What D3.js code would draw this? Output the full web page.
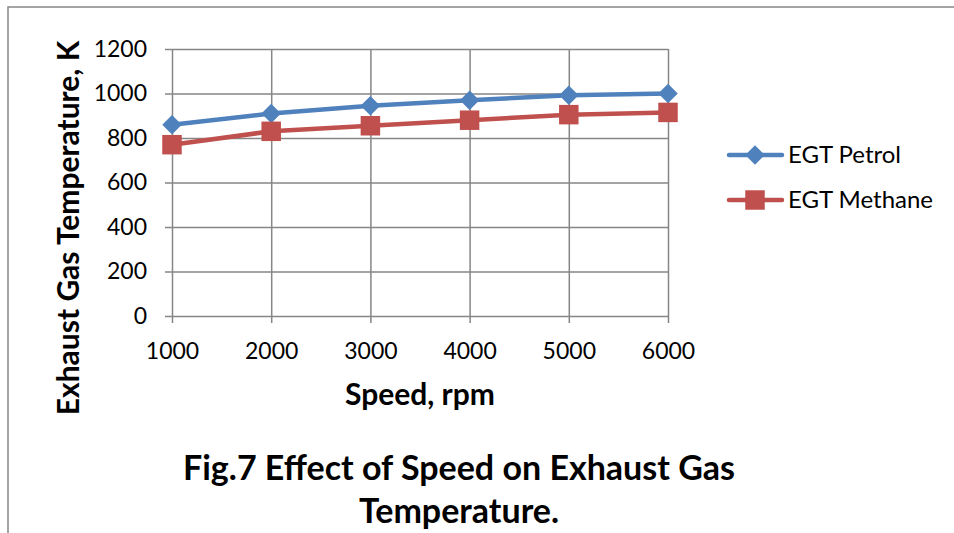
<!DOCTYPE html>
<html>
<head>
<meta charset="utf-8">
<script src="https://cdn.jsdelivr.net/npm/d3@7"></script>
<style>
  body { margin: 0; background: #fff; }
  svg { display: block; font-family: Lato, "Open Sans", sans-serif; }
</style>
</head>
<body>
<svg id="chart" width="954" height="533"></svg>
<script>
// data
var speeds = [1000, 2000, 3000, 4000, 5000, 6000];
var egtPetrol = [860, 910, 945, 970, 992, 1000];
var egtMethane = [770, 830, 855, 880, 905, 915];
var yTicks = [0, 200, 400, 600, 800, 1000, 1200];
var seriesNames = ["EGT Petrol", "EGT Methane"];

var svg = d3.select("#chart");
var m = { left: 172, right: 668, top: 49, bottom: 316 };
var gridCol = "#868686";

// outer frame (top + left only visible)
svg.append("path")
  .attr("d", "M8,533 V7 H954")
  .attr("fill", "none")
  .attr("stroke", gridCol)
  .attr("stroke-width", 1.5);

var x = d3.scaleLinear().domain([1000, 6000]).range([m.left, m.right]);
var y = d3.scaleLinear().domain([0, 1200]).range([m.bottom, m.top]);

// horizontal gridlines + y axis
var yAxis = d3.axisLeft(y).tickValues(yTicks).tickSize(-(m.right - m.left)).tickSizeOuter(0)
  .tickPadding(25).tickFormat(d3.format("d"));
var gy = svg.append("g").attr("transform", "translate(" + m.left + ",0)").call(yAxis);
gy.select(".domain").remove();
gy.selectAll(".tick line").attr("stroke", gridCol).attr("stroke-width", 1.5).attr("x1", -7);
gy.selectAll(".tick text").attr("font-size", 23).attr("fill", "#000").attr("font-family", "Lato");

// vertical gridlines + x axis
var xAxis = d3.axisBottom(x).tickValues(speeds).tickSize(-(m.bottom - m.top)).tickPadding(27).tickFormat(d3.format("d"));
var gx = svg.append("g").attr("transform", "translate(0," + m.bottom + ")").call(xAxis);
gx.select(".domain").remove();
gx.selectAll(".tick line").attr("stroke", gridCol).attr("stroke-width", 1.5).attr("y1", 7);
gx.selectAll(".tick text").attr("font-size", 23).attr("fill", "#000").attr("font-family", "Lato");

var series = [
  { name: seriesNames[0], values: egtPetrol, color: "#4F81BD", shape: d3.symbolSquare, size: 190, rot: 45 },
  { name: seriesNames[1], values: egtMethane, color: "#C0504D", shape: d3.symbolSquare, size: 380, rot: 0 }
];

var line = d3.line().x(function(d) { return x(d[0]); }).y(function(d) { return y(d[1]); });

series.forEach(function(s) {
  var pts = speeds.map(function(v, i) { return [v, s.values[i]]; });
  svg.append("path")
    .attr("d", line(pts))
    .attr("fill", "none")
    .attr("stroke", s.color)
    .attr("stroke-width", 4.5)
    .attr("stroke-linejoin", "round");
  svg.selectAll(null).data(pts).enter().append("path")
    .attr("d", d3.symbol().type(s.shape).size(s.size))
    .attr("transform", function(d) { return "translate(" + x(d[0]) + "," + y(d[1]) + ") rotate(" + s.rot + ")"; })
    .attr("fill", s.color);
});

// legend
var leg = svg.append("g");
series.forEach(function(s, i) {
  var ly = 155 + i * 45;
  leg.append("line").attr("x1", 729).attr("x2", 782).attr("y1", ly).attr("y2", ly)
    .attr("stroke", s.color).attr("stroke-width", 4.5).attr("stroke-linecap", "round");
  leg.append("path").attr("d", d3.symbol().type(s.shape).size(s.size))
    .attr("transform", "translate(755," + ly + ") rotate(" + s.rot + ")").attr("fill", s.color);
  leg.append("text").attr("x", 788).attr("y", ly).attr("dy", "0.35em")
    .attr("font-size", 24).text(s.name);
});

// axis titles
svg.append("text").attr("x", 420).attr("y", 394).attr("dy", "0.35em")
  .attr("text-anchor", "middle").attr("font-size", 30).attr("font-weight", "bold")
  .text("Speed, rpm");
svg.append("text").attr("transform", "translate(68,228) rotate(-90)").attr("dy", "0.35em")
  .attr("text-anchor", "middle").attr("font-size", 30).attr("font-weight", "bold")
  .text("Exhaust Gas Temperature, K");

// figure caption
var cap = svg.append("text").attr("text-anchor", "middle").attr("font-size", 34).attr("font-weight", "bold");
cap.append("tspan").attr("x", 459).attr("y", 480).text("Fig.7 Effect of Speed on Exhaust Gas");
cap.append("tspan").attr("x", 459).attr("y", 523).text("Temperature.");
</script>
</body>
</html>
